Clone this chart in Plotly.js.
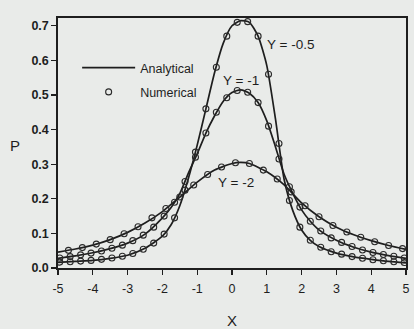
<!DOCTYPE html>
<html>
<head>
<meta charset="utf-8">
<script src="https://cdn.plot.ly/plotly-3.0.1.min.js"></script>
<style>html,body{margin:0;padding:0;background:#e9ebe9;}#chart{width:414px;height:329px;}</style>
</head>
<body>
<div id="chart"></div>
<script>
// Analytical curves
const xLine = [-5,-4.5,-4,-3.5,-3,-2.5,-2,-1.75,-1.5,-1.25,-1,-0.75,-0.5,-0.25,0,0.25,0.5,0.75,1,1.25,1.5,1.75,2,2.25,2.5,3,3.5,4,4.5,5];
const pA05 = [0.016,0.019,0.022,0.028,0.037,0.057,0.092,0.125,0.18,0.26,0.355,0.46,0.565,0.65,0.70,0.715,0.71,0.67,0.585,0.43,0.255,0.165,0.11,0.08,0.062,0.043,0.032,0.025,0.019,0.015];
const pA1  = [0.028,0.035,0.044,0.056,0.072,0.098,0.145,0.175,0.215,0.275,0.33,0.39,0.44,0.482,0.507,0.515,0.505,0.478,0.425,0.35,0.27,0.215,0.168,0.135,0.11,0.08,0.06,0.046,0.036,0.028];
const xLine2 = [-5,-4.5,-4,-3.5,-3,-2.5,-2,-1.5,-1,-0.5,0,0.25,0.5,1,1.5,2,2.5,3,3.5,4,4.5,5];
const pA2  = [0.046,0.055,0.066,0.082,0.103,0.13,0.163,0.205,0.248,0.283,0.302,0.305,0.302,0.278,0.24,0.188,0.148,0.118,0.096,0.079,0.065,0.054];

// Numerical points
const xNum = [-4.95,-4.65,-4.35,-4.05,-3.75,-3.45,-3.15,-2.85,-2.55,-2.25,-1.95,-1.65,-1.35,-1.05,-0.75,-0.45,-0.15,0.15,0.45,0.75,1.05,1.35,1.65,1.95,2.25,2.55,2.85,3.15,3.45,3.75,4.05,4.35,4.65,4.95];
const pN05 = [0.017,0.018,0.020,0.022,0.025,0.029,0.034,0.042,0.054,0.072,0.098,0.145,0.225,0.335,0.46,0.58,0.67,0.71,0.712,0.67,0.56,0.36,0.195,0.118,0.08,0.06,0.047,0.04,0.033,0.028,0.024,0.021,0.018,0.016];
const pN1  = [0.029,0.033,0.038,0.043,0.049,0.057,0.066,0.079,0.095,0.118,0.15,0.19,0.25,0.32,0.39,0.45,0.492,0.513,0.508,0.478,0.41,0.315,0.235,0.176,0.135,0.107,0.087,0.074,0.062,0.052,0.045,0.039,0.034,0.029];
const xNum2 = [-4.7,-4.3,-3.9,-3.5,-3.1,-2.7,-2.3,-1.9,-1.5,-1.1,-0.7,-0.3,0.1,0.5,0.9,1.3,1.7,2.1,2.5,2.9,3.3,3.7,4.1,4.5,4.9];
const pN2  = [0.051,0.059,0.069,0.082,0.099,0.119,0.145,0.172,0.205,0.24,0.27,0.292,0.304,0.302,0.283,0.257,0.22,0.18,0.148,0.123,0.104,0.089,0.076,0.065,0.056];

const xTicks = [-5,-4,-3,-2,-1,0,1,2,3,4,5];
const yTicks = [0,0.1,0.2,0.3,0.4,0.5,0.6,0.7];
const curveLabels = ["Y = -0.5","Y = -1","Y = -2"];
const labelX = [0.95,-0.32,-0.45];
const labelY = [0.647,0.543,0.246];

const ink = '#1e1e1e';
const lineStyle = {color: ink, width: 1.7, shape: 'spline', smoothing: 0.6};
const mk = {symbol: 'circle-open', size: 6, color: '#2a2a2a', line: {width: 1.1, color: '#2a2a2a'}};

const traces = [
  {x: xLine, y: pA05, mode: 'lines', line: lineStyle, name: 'Analytical', legendgroup: 'a', showlegend: true},
  {x: xLine, y: pA1, mode: 'lines', line: lineStyle, name: 'Analytical', legendgroup: 'a', showlegend: false},
  {x: xLine2, y: pA2, mode: 'lines', line: lineStyle, name: 'Analytical', legendgroup: 'a', showlegend: false},
  {x: xNum, y: pN05, mode: 'markers', marker: mk, name: 'Numerical', legendgroup: 'n', showlegend: true},
  {x: xNum, y: pN1, mode: 'markers', marker: mk, name: 'Numerical', legendgroup: 'n', showlegend: false},
  {x: xNum2, y: pN2, mode: 'markers', marker: mk, name: 'Numerical', legendgroup: 'n', showlegend: false}
];

const annotations = curveLabels.map((t, i) => ({
  x: labelX[i], y: labelY[i], xref: 'x', yref: 'y', text: t, showarrow: false,
  xanchor: 'left', yanchor: 'middle', font: {family: 'Liberation Sans, Arial, sans-serif', size: 13.5, color: ink}
}));
annotations.push({x: -0.125, y: 0.49, xref: 'paper', yref: 'paper', text: 'P', showarrow: false,
  xanchor: 'center', yanchor: 'middle', font: {family: 'Liberation Sans, Arial, sans-serif', size: 15, color: ink}});

const layout = {
  width: 414, height: 329,
  margin: {l: 58, r: 8, t: 18, b: 61},
  paper_bgcolor: '#e9ebe9', plot_bgcolor: '#e9ebe9',
  font: {family: 'Liberation Sans, Arial, sans-serif', size: 12, color: ink},
  showlegend: true,
  legend: {x: 0.055, y: 0.86, xanchor: 'left', yanchor: 'top', bgcolor: 'rgba(0,0,0,0)',
    traceorder: 'grouped', tracegroupgap: 5, itemwidth: 53,
    font: {family: 'Liberation Sans, Arial, sans-serif', size: 12.5, color: ink}},
  xaxis: {range: [-5, 5], tickvals: xTicks, ticktext: xTicks.map(String), ticks: 'outside', ticklen: 5, tickwidth: 1.3,
    tickcolor: ink, showline: true, linecolor: ink, linewidth: 1.7, mirror: true, showgrid: false, zeroline: false,
    ticklabelstandoff: 3,
    tickfont: {size: 12.5}, title: {text: 'X', font: {size: 15}, standoff: 24}},
  yaxis: {range: [0, 0.7225], tickvals: yTicks, ticktext: yTicks.map(v => v.toFixed(1)), ticks: 'outside', ticklen: 5, tickwidth: 1.3,
    tickcolor: ink, showline: true, linecolor: ink, linewidth: 1.7, mirror: true, showgrid: false, zeroline: false,
    tickfont: {size: 12.5, weight: 'bold'}},
  annotations: annotations
};

Plotly.newPlot('chart', traces, layout, {displayModeBar: false, staticPlot: true});
</script>
</body>
</html>
